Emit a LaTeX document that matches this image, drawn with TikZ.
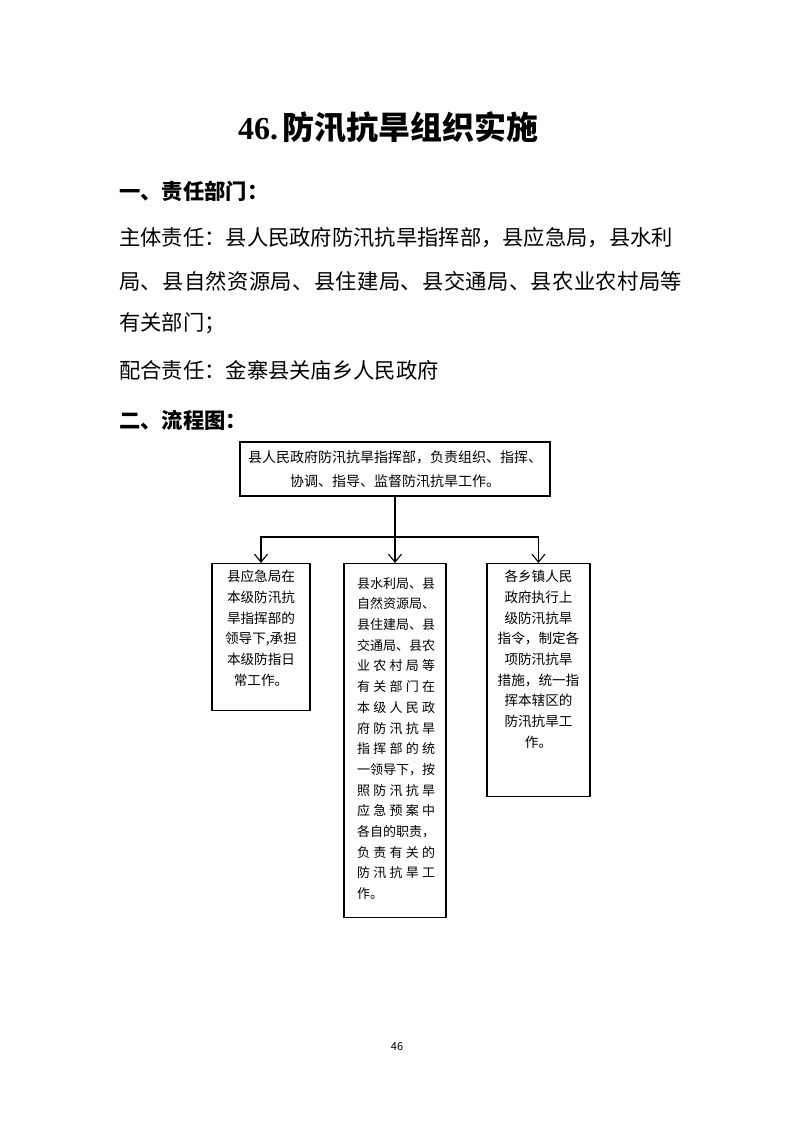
\documentclass[tikz,border=0pt]{standalone}
\usepackage{fontspec}
\setmainfont{Noto Sans CJK SC}
\newfontfamily\latinserif{Liberation Serif}
\usetikzlibrary{arrows.meta}
\makeatletter
\def\spr@a#1#2\@nil{#1\ifx\relax#2\relax\else\hfill\spr@a#2\@nil\fi}
\newcommand\spreadto[2]{\makebox[#1][l]{\spr@a#2\@nil}}
\makeatother
\tikzset{
  txt/.style={inner sep=0pt, anchor=west, font=\fontsize{21.3}{21.3}\selectfont},
  head/.style={inner sep=0pt, anchor=west, font=\bfseries\fontsize{21.3}{21.3}\selectfont},
  boxnode/.style={draw, line width=1.1pt, inner sep=0pt},
  boxtxt/.style={inner sep=0pt, anchor=north, align=center, font=\fontsize{13.6}{20.7}\selectfont},
  conn/.style={line width=1.1pt},
  arr/.style={line width=1.1pt, -{Straight Barb[length=8pt,width=13pt,line width=1.1pt]}}
}
\begin{document}
\begin{tikzpicture}[x=1pt,y=-1pt]
\useasboundingbox[fill=white] (0,0) rectangle (793,1122);
% title
\node[inner sep=0pt, anchor=west] (title) at (238,127)
  {\fontsize{32}{32}\selectfont\bfseries{\latinserif 46.}\hspace{4pt}防汛抗旱组织实施};
% section 1
\node[head] (h1) at (119,191) {一、责任部门：};
\node[txt] (l1) at (119,238) {\spreadto{551pt}{主体责任：县人民政府防汛抗旱指挥部，县应急局，县水利}};
\node[txt] (l2) at (119,281) {\spreadto{563pt}{局、县自然资源局、县住建局、县交通局、县农业农村局等}};
\node[txt] (l3) at (119,323) {有关部门；};
\node[txt] (l4) at (119,370) {配合责任：金寨县关庙乡人民政府};
% section 2
\node[head] (h2) at (119,420) {二、流程图：};
% flowchart
\node[boxnode, minimum width=310pt, minimum height=54pt, align=center,
      font=\fontsize{14}{24}\selectfont] (top) at (395,469)
  {县人民政府防汛抗旱指挥部，负责组织、指挥、\\协调、指导、监督防汛抗旱工作。};
\node[boxnode, minimum width=98pt, minimum height=147pt, anchor=north] (left) at (261,563) {};
\node[boxnode, minimum width=102pt, minimum height=354pt, anchor=north] (mid) at (395,563) {};
\node[boxnode, minimum width=103pt, minimum height=233pt, anchor=north] (right) at (538.5,563) {};
\node[boxtxt] (lefttxt) at (261,570)
  {县应急局在\\本级防汛抗\\旱指挥部的\\领导下,承担\\本级防指日\\常工作。};
\node[boxtxt, align=left, font=\fontsize{13}{20.7}\selectfont] (midtxt) at (396,577)
  {\spreadto{78pt}{县水利局、县}\\\spreadto{78pt}{自然资源局、}\\\spreadto{78pt}{县住建局、县}\\
   \spreadto{78pt}{交通局、县农}\\\spreadto{78pt}{业农村局等}\\\spreadto{78pt}{有关部门在}\\
   \spreadto{78pt}{本级人民政}\\\spreadto{78pt}{府防汛抗旱}\\\spreadto{78pt}{指挥部的统}\\
   \spreadto{78pt}{一领导下，按}\\\spreadto{78pt}{照防汛抗旱}\\\spreadto{78pt}{应急预案中}\\
   \spreadto{78pt}{各自的职责，}\\\spreadto{78pt}{负责有关的}\\\spreadto{78pt}{防汛抗旱工}\\
   \makebox[78pt][l]{作。}};
\node[boxtxt] (righttxt) at (538.5,570)
  {各乡镇人民\\政府执行上\\级防汛抗旱\\指令，制定各\\项防汛抗旱\\措施，统一指\\挥本辖区的\\防汛抗旱工\\作。};
\coordinate (split) at (395,537);
\draw[conn] (top.south) -- (split);
\draw[arr] (split) -- (mid.north);
\draw[arr] (split) -| (left.north);
\draw[arr] (split) -| (right.north);
% page number
\node[inner sep=0pt, font=\fontsize{11}{11}\selectfont] (pg) at (397,1047) {46};
\end{tikzpicture}
\end{document}
